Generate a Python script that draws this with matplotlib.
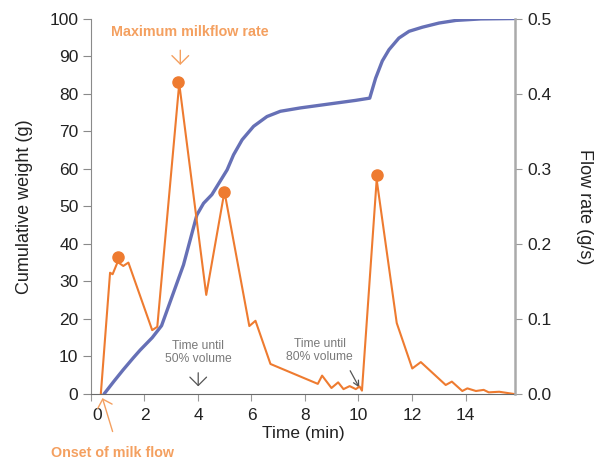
"""Milk flow chart: cumulative weight (left axis) and flow rate (right axis) over time."""
import matplotlib
matplotlib.use('Agg')
import matplotlib.pyplot as plt
from matplotlib.transforms import ScaledTranslation

plt.rcParams['font.family'] = ['Liberation Sans', 'DejaVu Sans']

# Cumulative weight (g)
weight_time = [0.49, 0.85, 1.20, 1.58, 1.84, 2.29, 2.64, 3.05, 3.46, 3.96, 4.21, 4.52,
               4.71, 5.09, 5.33, 5.65, 6.08, 6.58, 7.08, 7.83, 9.89, 10.42, 10.64,
               10.89, 11.14, 11.51, 11.89, 12.39, 13.01, 13.64, 14.57, 15.82]
weight_g = [0, 3.3, 6.4, 9.6, 11.7, 15.0, 18.2, 26.3, 34.4, 47.7, 50.8, 53.1,
            55.3, 59.7, 63.7, 67.7, 71.3, 73.9, 75.3, 76.2, 78.2, 78.8, 84.1,
            88.7, 91.7, 94.8, 96.6, 97.7, 98.8, 99.5, 99.9, 100.0]

# Flow rate (g/s)
flow_time = [0.37, 0.715, 0.81, 1.00, 1.07, 1.21, 1.40, 2.29, 2.48, 3.30, 4.31, 4.99,
             5.92, 6.15, 6.71, 8.48, 8.64, 8.99, 9.24, 9.44, 9.67, 9.90, 10.04, 10.13,
             10.68, 11.43, 12.01, 12.33, 13.26, 13.49, 13.88, 14.07, 14.39, 14.68,
             14.87, 15.26, 15.82]
flow_rate = [0, 0.1615, 0.1595, 0.176, 0.174, 0.1705, 0.175, 0.085, 0.0895, 0.4135,
             0.132, 0.2695, 0.0905, 0.0975, 0.040, 0.0135, 0.0245, 0.008, 0.0155,
             0.0065, 0.0105, 0.0065, 0.010, 0.0045, 0.2855, 0.0945, 0.034, 0.0425,
             0.012, 0.0165, 0.004, 0.0075, 0.004, 0.0055, 0.0022, 0.003, 0.0]

# Flow peaks
peak_time = [1.00, 3.27, 4.99, 10.68]
peak_rate = [0.183, 0.415, 0.2695, 0.291]

x_ticks = [0, 2, 4, 6, 8, 10, 12, 14]
left_ticks = [0, 10, 20, 30, 40, 50, 60, 70, 80, 90, 100]
right_ticks = [0.0, 0.1, 0.2, 0.3, 0.4, 0.5]

BLUE = '#6670b6'
ORANGE = '#ee7b30'
LIGHT_ORANGE = '#f4a060'
GRAY_TEXT = '#7a7a7a'
ARROW = '->,head_length=0.3,head_width=0.3'

fig = plt.figure(figsize=(6.01, 4.59), dpi=100)
ax = fig.add_axes([0.1513, 0.1416, 0.7056, 0.818])
ax2 = ax.twinx()

# Cumulative weight curve
ax.plot(weight_time, weight_g, color=BLUE, lw=2.4, solid_capstyle='round',
        solid_joinstyle='round', zorder=3)

# Flow rate line and peaks
ax2.plot(flow_time, flow_rate, color=ORANGE, lw=1.5, zorder=2)
ax2.plot(peak_time, peak_rate, 'o', color=ORANGE, ms=8, zorder=3)

ax.set_xlim(0, 15.85)
ax.set_ylim(0, 100)
ax2.set_ylim(0, 0.5)

ax.set_xticks(x_ticks)
ax.set_yticks(left_ticks)
ax2.set_yticks(right_ticks)
ax2.set_yticklabels(['%.1f' % v for v in right_ticks])

for s in ['top', 'right']:
    ax.spines[s].set_visible(False)
for s in ['top', 'left', 'bottom']:
    ax2.spines[s].set_visible(False)
ax.spines['left'].set_color('#8a8a8a')
ax.spines['bottom'].set_color('#6a6a6a')
ax2.spines['right'].set_color('#aaaaaa')
ax2.spines['right'].set_linewidth(1.8)

ax.tick_params(axis='y', labelsize=12.5, length=6, color='#8a8a8a', labelcolor='#222222', pad=3)
ax.tick_params(axis='x', labelsize=12.5, length=5, color='#999999', labelcolor='#222222', pad=5)
ax2.tick_params(axis='y', labelsize=12.5, length=5, color='#999999', labelcolor='#222222', pad=4)

# the "0" label sits a little right of its tick in the original
zero_lbl = ax.get_xticklabels()[0]
zero_lbl.set_transform(zero_lbl.get_transform() + ScaledTranslation(0.06, 0, fig.dpi_scale_trans))

ax.set_xlabel('Time (min)', fontsize=12.5, color='#222222', labelpad=2)
ax.set_ylabel('Cumulative weight (g)', fontsize=13, color='#222222', labelpad=12)
ax2.set_ylabel('Flow rate (g/s)', fontsize=13, color='#222222', rotation=270, labelpad=30)

# Annotations
ax.annotate('', xy=(3.34, 86.9), xytext=(3.34, 92.3),
            arrowprops=dict(arrowstyle=ARROW, color=LIGHT_ORANGE, lw=1, mutation_scale=20))
ax.text(3.71, 96.3, 'Maximum milkflow rate', color=LIGHT_ORANGE, fontsize=10.3,
        fontweight='bold', ha='center', va='center')

ax.annotate('', xy=(0.40, -0.4), xytext=(0.84, -10.7), annotation_clip=False,
            arrowprops=dict(arrowstyle=ARROW, color=LIGHT_ORANGE, lw=1, mutation_scale=18))
ax.text(0.79, -15.65, 'Onset of milk flow', color=LIGHT_ORANGE, fontsize=10.3,
        fontweight='bold', ha='center', va='center', clip_on=False)

ax.text(4.01, 11.0, 'Time until\n50% volume', color=GRAY_TEXT, fontsize=8.7,
        ha='center', va='center', linespacing=1.1)
ax.annotate('', xy=(4.01, 1.3), xytext=(4.01, 6.4),
            arrowprops=dict(arrowstyle=ARROW, color='#555555', lw=0.9, mutation_scale=20))

ax.text(8.55, 11.7, 'Time until\n80% volume', color=GRAY_TEXT, fontsize=8.7,
        ha='center', va='center', linespacing=1.1)
ax.annotate('', xy=(10.08, 1.07), xytext=(9.64, 6.85),
            arrowprops=dict(arrowstyle='->', color='#555555', lw=0.9, mutation_scale=10))

fig.savefig('out.png', dpi=100)
